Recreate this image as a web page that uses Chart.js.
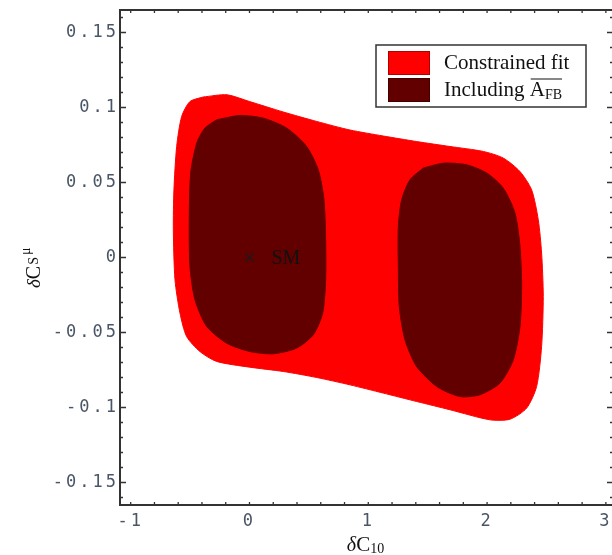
<!DOCTYPE html>
<html lang="en">
<head>
<meta charset="UTF-8" />
<title>Constrained fit in the δC10 – δCS plane</title>
<script src="https://cdn.jsdelivr.net/npm/chart.js@4.4.0/dist/chart.umd.min.js"></script>
<style>
  html,body{margin:0;padding:0;background:#fff;overflow:hidden}
  .box{width:614px;height:555px;position:relative}
</style>
</head>
<body>
<div class="box"><canvas id="fit"></canvas></div>
<script>
/* ---- data: [δC10, δCS] ---- */
const outerFit = [
  [-0.39,0.107],[-0.19,0.1085],[0.0,0.104],[0.285,0.097],[0.566,0.0907],[0.846,0.085],
  [1.126,0.081],[1.407,0.0773],[1.688,0.074],[1.968,0.0707],[2.136,0.0663],[2.277,0.0573],
  [2.375,0.0451],[2.431,0.0251],[2.459,0.003],[2.473,-0.026],[2.459,-0.0593],[2.417,-0.086],
  [2.333,-0.1004],[2.193,-0.1078],[2.024,-0.1082],[1.688,-0.1015],[1.407,-0.096],[1.126,-0.0904],
  [0.846,-0.0849],[0.566,-0.080],[0.285,-0.076],[0.0,-0.0731],[-0.276,-0.0693],[-0.417,-0.0627],
  [-0.529,-0.0527],[-0.585,-0.0371],[-0.627,-0.0149],[-0.641,0.0185],[-0.636,0.0451],
  [-0.613,0.074],[-0.571,0.094],[-0.501,0.104],[-0.39,0.107]
];
const leftBlob = [
  [-0.276,0.0918],[-0.08,0.0947],[0.116,0.0929],[0.313,0.0863],[0.481,0.074],[0.579,0.0585],
  [0.627,0.0385],[0.641,0.0118],[0.641,-0.0149],[0.616,-0.0371],[0.537,-0.0515],[0.397,-0.0604],
  [0.2,-0.0642],[0.004,-0.0627],[-0.192,-0.0571],[-0.36,-0.046],[-0.459,-0.0282],[-0.501,-0.006],
  [-0.507,0.0251],[-0.495,0.0563],[-0.444,0.0763],[-0.375,0.0863],[-0.276,0.0918]
];
const rightBlob = [
  [1.463,0.0596],[1.631,0.0629],[1.828,0.0618],[1.997,0.0563],[2.136,0.0463],[2.235,0.0296],
  [2.277,0.0073],[2.291,-0.0193],[2.277,-0.046],[2.221,-0.0682],[2.109,-0.0837],[1.94,-0.0915],
  [1.772,-0.0927],[1.576,-0.086],[1.407,-0.0727],[1.309,-0.0549],[1.261,-0.0327],[1.253,-0.006],
  [1.253,0.0207],[1.281,0.0385],[1.351,0.0518],[1.463,0.0596]
];
const smPoint = [[0,0]];
const seriesNames = ['Constrained fit','Including A_FB'];
const xTicks = [-1,0,1,2,3];
const xTickLabels = ['-1','0','1','2','3'];
const yTicks = [-0.15,-0.1,-0.05,0,0.05,0.1,0.15];
const yTickLabels = ['-0.15','-0.1','-0.05','0','0.05','0.1','0.15'];

const RED='#ff0000', DARK='#620000', SERIF='"Liberation Serif","DejaVu Serif",serif';
const pts = a => a.map(([x,y]) => ({x,y}));
const region = (label,arr,color,order) => ({label,data:pts(arr),showLine:true,fill:'shape',
  backgroundColor:color,borderColor:color,borderWidth:1,pointRadius:0,pointHoverRadius:0,tension:0.25,order});

/* frame with inward ticks, like the original plot */
const frame = {
  id:'frame',
  beforeDraw:c=>{c.ctx.letterSpacing='3px';},
  beforeDatasetsDraw:c=>{c.ctx.letterSpacing='0px';},
  afterDatasetsDraw:c=>{
    const ctx=c.ctx,a=c.chartArea,sx=c.scales.x,sy=c.scales.y;
    ctx.save();
    ctx.strokeStyle='#333';ctx.lineWidth=1.3;
    ctx.beginPath();
    for(let k=-5;k<=15;k++){const px=sx.getPixelForValue(k*0.2);
      ctx.moveTo(px,a.bottom);ctx.lineTo(px,a.bottom-3);ctx.moveTo(px,a.top);ctx.lineTo(px,a.top+3);}
    for(let k=-16;k<=16;k++){const py=sy.getPixelForValue(k*0.01),l=k%5===0?6:3;
      ctx.moveTo(a.left,py);ctx.lineTo(a.left+l,py);ctx.moveTo(a.right,py);ctx.lineTo(a.right-l,py);}
    ctx.stroke();
    ctx.lineWidth=2;ctx.strokeRect(a.left,a.top,a.right-a.left,a.bottom-a.top);
    ctx.restore();
  },
  afterDraw:c=>{
    const ctx=c.ctx,a=c.chartArea,sx=c.scales.x,sy=c.scales.y,ds=c.data.datasets;
    ctx.save();ctx.letterSpacing='0px';ctx.fillStyle='#111';ctx.textBaseline='alphabetic';

    /* SM label */
    ctx.font='20px '+SERIF;
    ctx.fillText('SM',sx.getPixelForValue(smPoint[0][0])+22,sy.getPixelForValue(smPoint[0][1])+6);

    /* x title: δC10 */
    const by=551;
    ctx.font='italic 20px '+SERIF;const wd=ctx.measureText('δ').width;
    ctx.font='21px '+SERIF;const wc=ctx.measureText('C').width;
    ctx.font='14px '+SERIF;const ws=ctx.measureText('10').width;
    let x0=(a.left+a.right)/2-1-(wd+wc+ws)/2;
    ctx.font='italic 20px '+SERIF;ctx.fillText('δ',x0,by);x0+=wd;
    ctx.font='21px '+SERIF;ctx.fillText('C',x0,by);x0+=wc;
    ctx.font='14px '+SERIF;ctx.fillText('10',x0,by+2);

    /* y title: δCS^μ, rotated */
    ctx.save();ctx.translate(40,288);ctx.rotate(-Math.PI/2);
    let y0=0;
    ctx.font='italic 19px '+SERIF;ctx.fillText('δ',y0,0);y0+=ctx.measureText('δ').width;
    ctx.font='20px '+SERIF;ctx.fillText('C',y0,0);y0+=ctx.measureText('C').width+1;
    ctx.font='14px '+SERIF;ctx.fillText('S',y0,-2);y0+=ctx.measureText('S').width+2;
    ctx.font='14px '+SERIF;ctx.fillText('μ',y0,-10);
    ctx.restore();

    /* legend */
    const fitSet=ds.find(d=>d.label===seriesNames[0]), afbSet=ds.find(d=>d.label===seriesNames[1]);
    const lx=376,ly=45,lw=210,lh=62;
    ctx.fillStyle='#fff';ctx.fillRect(lx,ly,lw,lh);
    ctx.strokeStyle='#333';ctx.lineWidth=1.5;ctx.strokeRect(lx,ly,lw,lh);
    const rows=[{d:fitSet,y:ly+6},{d:afbSet,y:ly+33}];
    rows.forEach((r,i)=>{
      ctx.fillStyle=r.d.backgroundColor;ctx.fillRect(lx+12,r.y,42,24);
      ctx.strokeStyle='rgba(0,0,0,0.3)';ctx.lineWidth=1;ctx.strokeRect(lx+12.5,r.y+.5,41,23);
      ctx.fillStyle='#111';ctx.font='21px '+SERIF;
      const tx=lx+68,ty=r.y+18;
      if(i===0){ctx.fillText(r.d.label,tx,ty);}
      else{
        const [main,sub]=r.d.label.split('_');
        const base=main.slice(0,-1),sym=main.slice(-1);
        ctx.fillText(base,tx,ty);
        const x1=tx+ctx.measureText(base).width;
        ctx.fillText(sym,x1,ty);
        const x2=x1+ctx.measureText(sym).width;
        ctx.font='14px '+SERIF;ctx.fillText(sub,x2,ty+3);
        const x3=x2+ctx.measureText(sub).width;
        ctx.strokeStyle='#111';ctx.lineWidth=1;
        ctx.beginPath();ctx.moveTo(x1+1,ty-17);ctx.lineTo(x3,ty-17);ctx.stroke();
      }
    });
    ctx.restore();
  }
};

new Chart(document.getElementById('fit'),{
  type:'scatter',
  data:{datasets:[
    {label:'SM',data:pts(smPoint),pointStyle:'crossRot',pointRadius:6,pointHoverRadius:6,
      borderColor:'#1a1a1a',borderWidth:1.2,backgroundColor:'transparent',order:1},
    region(seriesNames[1],leftBlob,DARK,2),
    region(seriesNames[1],rightBlob,DARK,2),
    region(seriesNames[0],outerFit,RED,3)
  ]},
  options:{
    responsive:true,maintainAspectRatio:false,animation:false,events:[],
    layout:{autoPadding:false,padding:{left:0,top:10,right:1,bottom:0}},
    plugins:{legend:{display:false},tooltip:{enabled:false}},
    scales:{
      x:{type:'linear',min:-1.09,max:3.06,
        grid:{display:false},border:{display:false},
        afterFit:s=>{s.height=50;s.paddingLeft=0;s.paddingRight=0;},
        afterBuildTicks:s=>{s.ticks=xTicks.map(v=>({value:v}));},
        ticks:{padding:-2,color:'#4a5566',maxRotation:0,font:{family:'"DejaVu Sans Mono",monospace',size:17},
          callback:(v,i)=>xTickLabels[i]}},
      y:{type:'linear',min:-0.165,max:0.165,
        grid:{display:false},border:{display:false},
        afterFit:s=>{s.width=120;s.paddingTop=0;s.paddingBottom=0;},
        afterBuildTicks:s=>{s.ticks=yTicks.map(v=>({value:v}));},
        ticks:{padding:-7,color:'#4a5566',font:{family:'"DejaVu Sans Mono",monospace',size:17},
          callback:(v,i)=>yTickLabels[i]}}
    }
  },
  plugins:[frame]
});
</script>
</body>
</html>
